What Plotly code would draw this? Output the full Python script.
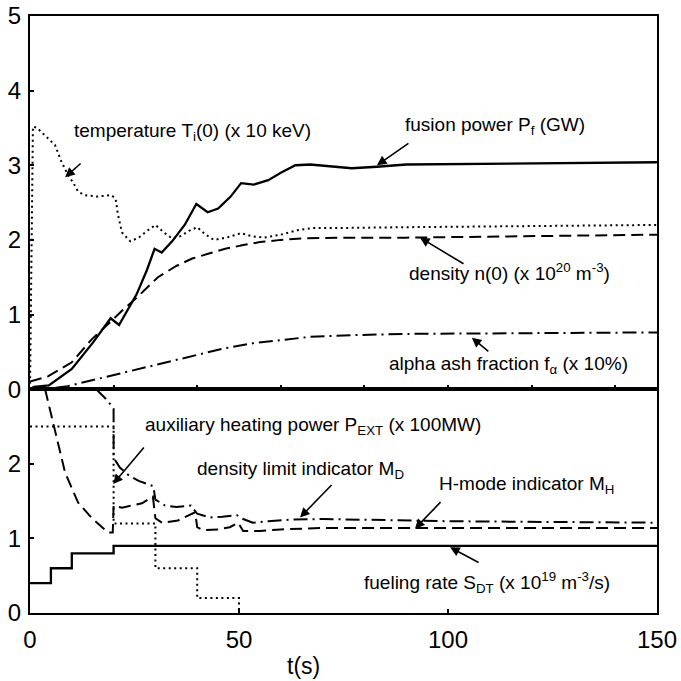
import plotly.graph_objects as go

# ---------------- data (top panel) ----------------
t_temp = [0, 0.7, 1.7, 4, 6, 7.5, 9, 10.5, 11.5, 13, 16, 19.5, 20.5, 21, 22, 24, 26, 28, 30, 32, 34, 36, 38, 40, 42, 44, 47, 50.5, 53, 56, 60, 64, 68, 75, 90, 150]
v_temp = [0, 3.52, 3.5, 3.38, 3.27, 3.05, 2.88, 2.75, 2.65, 2.6, 2.58, 2.6, 2.55, 2.35, 2.1, 1.98, 2.03, 2.12, 2.2, 2.1, 2.02, 2.05, 2.12, 2.17, 2.07, 2.0, 2.03, 2.09, 2.05, 2.03, 2.07, 2.13, 2.16, 2.16, 2.17, 2.2]

t_fus = [0, 1, 4.5, 10, 15, 19.3, 21.3, 23, 25.5, 28, 29.8, 31.5, 34, 37, 39.8, 42.5, 45, 48, 50.5, 53.5, 57, 60, 63.5, 67, 72, 77, 83, 90, 150]
v_fus = [0, 0.03, 0.05, 0.27, 0.62, 0.95, 0.86, 1.02, 1.27, 1.6, 1.88, 1.83, 1.98, 2.2, 2.48, 2.37, 2.42, 2.58, 2.76, 2.74, 2.8, 2.9, 3.0, 3.01, 2.99, 2.96, 2.98, 3.01, 3.04]

t_dens = [0, 4.3, 10, 14.8, 19.6, 22, 25.8, 30.6, 35, 38.8, 43, 46.7, 51, 55, 60, 65, 75, 90, 150]
v_dens = [0.1, 0.17, 0.36, 0.67, 0.92, 1.05, 1.24, 1.5, 1.65, 1.75, 1.82, 1.88, 1.93, 1.97, 2.0, 2.02, 2.03, 2.03, 2.07]

t_ash = [0, 5, 9, 15, 22.7, 30, 38.8, 46, 53.8, 60, 67, 75, 90, 150]
v_ash = [0, 0.01, 0.04, 0.12, 0.22, 0.32, 0.44, 0.54, 0.62, 0.66, 0.7, 0.72, 0.74, 0.76]

# ---------------- data (bottom panel) ----------------
t_pext = [0, 20, 30, 40, 50]
v_pext = [2.5, 1.2, 0.6, 0.2, 0]

t_sdt = [0, 5, 10, 20, 150]
v_sdt = [0.4, 0.6, 0.8, 0.9, 0.9]

t_md = [15.8, 18.5, 20, 20, 21.5, 23.5, 26, 29.5, 30, 32.3, 35, 38.5, 40, 43, 46, 49.5, 51, 53.3, 57, 62, 70, 100, 150]
v_md = [3.0, 2.85, 2.74, 2.08, 1.95, 1.85, 1.77, 1.70, 1.52, 1.44, 1.42, 1.44, 1.33, 1.28, 1.29, 1.31, 1.26, 1.21, 1.23, 1.25, 1.26, 1.23, 1.21]

t_mh = [3.6, 6, 8.4, 11.5, 14.8, 18.7, 19.8, 20, 22, 26.8, 29.4, 30, 31.6, 35.4, 39.5, 40, 41.4, 45, 47.8, 49.8, 51, 55, 60, 70, 150]
v_mh = [3.0, 2.46, 1.88, 1.48, 1.27, 1.08, 1.08, 1.44, 1.41, 1.47, 1.56, 1.27, 1.21, 1.24, 1.35, 1.15, 1.11, 1.12, 1.15, 1.21, 1.1, 1.1, 1.12, 1.14, 1.14]

top_ticks = [0, 1, 2, 3, 4, 5]
bot_ticks = [0, 1, 2]
x_ticks = [0, 50, 100, 150]

BLACK = "black"
LW = 2.0
DASH = "12px,6px"
DOT = "2px,3.5px"
DASHDOT = "14px,5px,2px,5px"

fig = go.Figure()

def add(x, y, dash, xa, ya, shape="linear", w=LW):
    fig.add_trace(go.Scatter(x=x, y=y, mode="lines", xaxis=xa, yaxis=ya,
                             line=dict(color=BLACK, width=w, dash=dash, shape=shape),
                             showlegend=False, hoverinfo="skip"))

add(t_temp, v_temp, DOT, "x2", "y2")
add(t_fus, v_fus, "solid", "x2", "y2", w=2.3)
add(t_dens, v_dens, DASH, "x2", "y2")
add(t_ash, v_ash, DASHDOT, "x2", "y2")

add(t_pext, v_pext, DOT, "x", "y", shape="hv")
add(t_sdt, v_sdt, "solid", "x", "y", shape="hv", w=2.3)
add(t_md, v_md, DASHDOT, "x", "y")
add(t_mh, v_mh, DASH, "x", "y")

FAM = "Liberation Sans, Arial, sans-serif"
TICKFONT = dict(family=FAM, size=24, color=BLACK)
LABFONT = dict(family=FAM, size=19, color=BLACK)

axis_common = dict(showline=True, linecolor=BLACK, linewidth=2, mirror=True,
                   showgrid=False, zeroline=False, ticks="inside", ticklen=4,
                   tickcolor=BLACK, tickwidth=1.5, automargin=False,
                   ticklabeloverflow="allow")

fig.update_layout(
    width=681, height=681,
    margin=dict(l=30, r=24, t=16, b=68),
    paper_bgcolor="white", plot_bgcolor="white",
    xaxis=dict(range=[0, 150], tickvals=x_ticks, tickfont=TICKFONT,
               anchor="y", ticklabelstandoff=4, **axis_common),
    xaxis2=dict(range=[0, 150], matches="x", anchor="y2", showticklabels=False,
                **axis_common),
    yaxis=dict(range=[0, 3], domain=[0, 0.375], tickvals=bot_ticks, tickfont=TICKFONT,
               anchor="x", ticklabelstandoff=2, **axis_common),
    yaxis2=dict(range=[0, 5], domain=[0.375, 1], tickvals=top_ticks, tickfont=TICKFONT,
                anchor="x2", ticklabelstandoff=2, **axis_common),
)

# text labels
labels = [
    ("temperature T<sub>i</sub>(0) (x 10 keV)", 10, 3.44, "x2", "y2"),
    ("fusion power P<sub>f</sub> (GW)", 89.2, 3.53, "x2", "y2"),
    ("density n(0) (x 10<sup>20</sup> m<sup>-3</sup>)", 90.2, 1.57, "x2", "y2"),
    ("alpha ash fraction f<sub>α</sub> (x 10%)", 85.4, 0.32, "x2", "y2"),
    ("auxiliary heating power P<sub>EXT</sub> (x 100MW)", 27, 2.51, "x", "y"),
    ("density limit indicator M<sub>D</sub>", 39.5, 1.91, "x", "y"),
    ("H-mode indicator M<sub>H</sub>", 97.4, 1.71, "x", "y"),
    ("fueling rate S<sub>DT</sub> (x 10<sup>19</sup> m<sup>-3</sup>/s)", 79.4, 0.41, "x", "y"),
]
for txt, x, y, xr, yr in labels:
    fig.add_annotation(text=txt, x=x, y=y, xref=xr, yref=yr, showarrow=False,
                       xanchor="left", yanchor="middle", font=LABFONT)

# arrows (tip in data coords, tail offset in px)
arrows = [
    (8.4, 2.84, 17, -15, "x2", "y2"),
    (83, 3.0, 33, -23, "x2", "y2"),
    (93.3, 2.03, 45, 27, "x2", "y2"),
    (105.7, 0.69, 18, 15, "x2", "y2"),
    (19.9, 1.73, 32, -38, "x", "y"),
    (64.6, 1.28, 33, -34, "x", "y"),
    (92.1, 1.13, 27, -28, "x", "y"),
    (100.5, 0.88, 30, 16, "x", "y"),
]
for x, y, ax, ay, xr, yr in arrows:
    fig.add_annotation(x=x, y=y, xref=xr, yref=yr, ax=ax, ay=ay, text="",
                       showarrow=True, arrowhead=2, arrowsize=1.2, arrowwidth=1.6,
                       arrowcolor=BLACK)

fig.add_annotation(text="t(s)", x=65.5, y=-0.088, xref="x", yref="paper",
                   showarrow=False, xanchor="center", yanchor="middle",
                   font=dict(family=FAM, size=23, color=BLACK))

fig.write_html("out.html", config={"displayModeBar": False},
               post_script="document.body.style.margin='0px';")
